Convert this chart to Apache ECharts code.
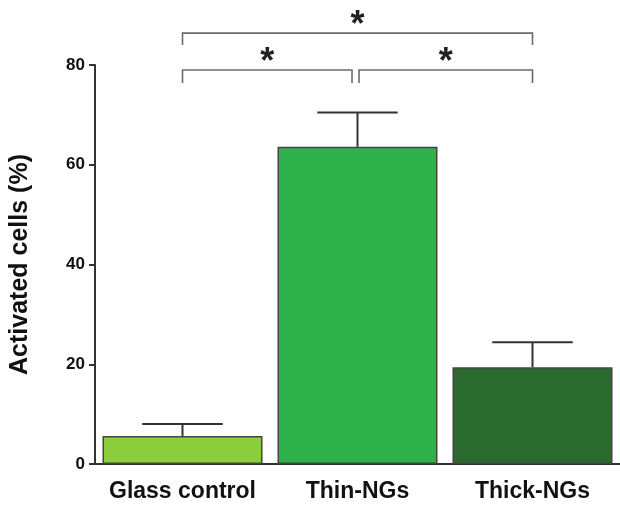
<!DOCTYPE html>
<html>
<head>
<meta charset="utf-8">
<script src="https://cdn.jsdelivr.net/npm/echarts@6/dist/echarts.min.js"></script>
<style>html,body{margin:0;padding:0;background:#fff}#c{width:620px;height:509px}</style>
</head>
<body>
<div id="c"></div>
<script>
var categories = ['Glass control', 'Thin-NGs', 'Thick-NGs'];
var means = [5.6, 63.6, 19.4];
var upperErr = [8.0, 70.5, 24.4];
var barColors = ['#8ccf3c', '#2eb24b', '#2b6b2f'];
var yTicks = [0, 20, 40, 60, 80];
// significance brackets: [fromIndex, toIndex, bracketY, legEndY]
var brackets = [[0, 1, 79.0, 76.4], [1, 2, 79.0, 76.4], [0, 2, 86.4, 84.0]];
var starLabels = ['*', '*', '*'];

var FONT = "'Liberation Sans', Arial, Helvetica, sans-serif";
var chart = echarts.init(document.getElementById('c'), null, {renderer: 'canvas'});

var barData = means.map(function (v, i) {
  return {value: v, itemStyle: {color: barColors[i]}};
});
var errData = means.map(function (v, i) { return [i, v, upperErr[i]]; });

chart.setOption({
  animation: false,
  backgroundColor: '#fff',
  grid: {left: 95, right: 0, top: 65, bottom: 45},
  xAxis: {
    type: 'category',
    data: categories,
    axisLine: {lineStyle: {color: '#333', width: 2}},
    axisTick: {alignWithLabel: true, length: 6, lineStyle: {color: '#333', width: 2}},
    axisLabel: {interval: 0, hideOverlap: false, color: '#111', fontFamily: FONT, fontWeight: 'bold', fontSize: 23, margin: 16}
  },
  yAxis: {
    type: 'value',
    min: yTicks[0], max: yTicks[yTicks.length - 1], interval: 20,
    name: 'Activated cells (%)',
    nameLocation: 'middle',
    nameGap: 62,
    nameTextStyle: {color: '#111', fontFamily: FONT, fontWeight: 'bold', fontSize: 25},
    splitLine: {show: false},
    axisLine: {show: true, lineStyle: {color: '#333', width: 2}},
    axisTick: {show: true, length: 6, lineStyle: {color: '#333', width: 2}},
    axisLabel: {color: '#111', fontFamily: FONT, fontWeight: 'bold', fontSize: 17, margin: 10}
  },
  series: [
    {
      type: 'bar',
      data: barData,
      barWidth: 160,
      itemStyle: {borderColor: '#444', borderWidth: 1.5},
      z: 2
    },
    {
      type: 'custom',
      data: errData,
      encode: {x: 0, y: [1, 2]},
      z: 3,
      renderItem: function (params, api) {
        var i = api.value(0);
        var base = api.coord([i, api.value(1)]);
        var top = api.coord([i, api.value(2)]);
        var half = api.size([1, 0])[0] * 0.23;
        var st = {stroke: '#333', lineWidth: 2};
        return {type: 'group', children: [
          {type: 'line', shape: {x1: base[0], y1: base[1], x2: top[0], y2: top[1]}, style: st},
          {type: 'line', shape: {x1: top[0] - half, y1: top[1], x2: top[0] + half, y2: top[1]}, style: st}
        ]};
      }
    },
    {
      type: 'custom',
      data: brackets,
      encode: {x: 0, y: 2},
      clip: false,
      silent: true,
      z: 4,
      renderItem: function (params, api) {
        var a = api.coord([api.value(0), api.value(2)]);
        var b = api.coord([api.value(1), api.value(2)]);
        var legA = api.coord([api.value(0), api.value(3)]);
        var isSplit = api.value(2) < 80;
        var x1 = a[0], x2 = b[0];
        if (isSplit) {
          if (api.value(0) === 1) x1 += 1.5;
          if (api.value(1) === 1) x2 -= 5.5;
        }
        var st = {stroke: '#6a6a6a', lineWidth: 1.6, fill: null};
        var mid = (x1 + x2) / 2;
        return {type: 'group', children: [
          {type: 'polyline', shape: {points: [[x1, legA[1]], [x1, a[1]], [x2, a[1]], [x2, legA[1]]]}, style: st},
          {type: 'text', style: {text: starLabels[params.dataIndex], x: mid, y: a[1] - 7, align: 'center', verticalAlign: 'middle',
            font: 'bold 36px ' + FONT, fill: '#222'}}
        ]};
      }
    }
  ]
});
</script>
</body>
</html>
